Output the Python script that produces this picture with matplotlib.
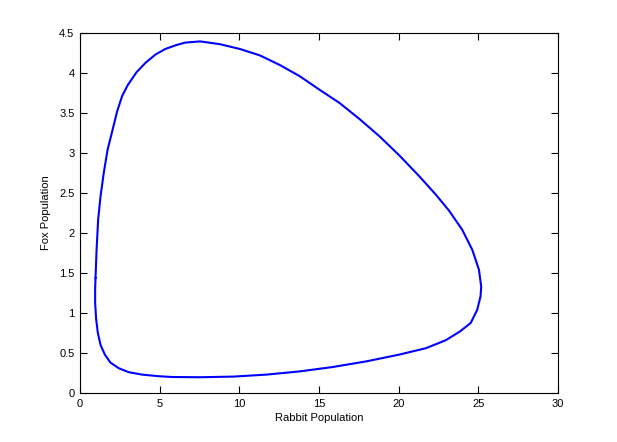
import matplotlib
matplotlib.use("Agg")
import matplotlib.pyplot as plt

rabbits = [0.975, 0.95, 0.95, 1.01, 1.12, 1.29, 1.56, 1.91, 2.43, 3.06, 3.89,
           4.93, 5.77, 7.54, 9.62, 11.71, 13.79, 15.87, 17.96, 20.04, 21.71,
           22.96, 23.85, 24.52, 24.93, 25.14, 25.18, 25.04, 24.62, 23.99,
           23.16, 22.33, 21.29, 20.04, 18.79, 17.54, 16.29, 15.04, 13.79,
           12.54, 11.29, 10.04, 8.79, 7.54, 6.6, 5.98, 5.35, 4.73, 4.10, 3.55,
           3.0, 2.64, 2.33, 2.02, 1.73, 1.49, 1.29, 1.14, 1.04, 0.975]
foxes = [1.44, 1.30, 1.13, 0.93, 0.75, 0.60, 0.48, 0.38, 0.31, 0.26, 0.23,
         0.21, 0.20, 0.197, 0.205, 0.23, 0.27, 0.325, 0.395, 0.48, 0.56,
         0.66, 0.77, 0.875, 1.04, 1.21, 1.33, 1.54, 1.79, 2.04,
         2.28, 2.48, 2.71, 2.97, 3.21, 3.425, 3.625, 3.79, 3.96,
         4.10, 4.22, 4.30, 4.36, 4.395, 4.38, 4.345, 4.30, 4.23, 4.125, 4.01,
         3.85, 3.71, 3.52, 3.27, 3.04, 2.75, 2.46, 2.17, 1.79, 1.44]

x_ticks = [0, 5, 10, 15, 20, 25, 30]
y_ticks = [0, 0.5, 1, 1.5, 2, 2.5, 3, 3.5, 4, 4.5]
y_labels = ["0", "0.5", "1", "1.5", "2", "2.5", "3", "3.5", "4", "4.5"]

plt.rcParams['font.family'] = ['Liberation Sans', 'DejaVu Sans']
fig = plt.figure(figsize=(6.17, 4.42), dpi=100)
ax = fig.add_axes([80/617, 49/442, 478/617, 360/442])
ax.plot(rabbits, foxes, color=(0, 0, 1), lw=1.5, solid_joinstyle='round',
        solid_capstyle='round')
ax.set_xlim(0, 30)
ax.set_ylim(0, 4.5)
ax.set_xticks(x_ticks)
ax.set_xticklabels([str(t) for t in x_ticks])
ax.set_yticks(y_ticks)
ax.set_yticklabels(y_labels)
ax.tick_params(direction='in', top=True, right=True, length=5, width=0.8,
               labelsize=8, pad=4)
for s in ax.spines.values():
    s.set_linewidth(0.8)
ax.set_xlabel("Rabbit Population", fontsize=8, labelpad=3)
ax.set_ylabel("Fox Population", fontsize=8, labelpad=6)
fig.savefig("out.png", dpi=100)
